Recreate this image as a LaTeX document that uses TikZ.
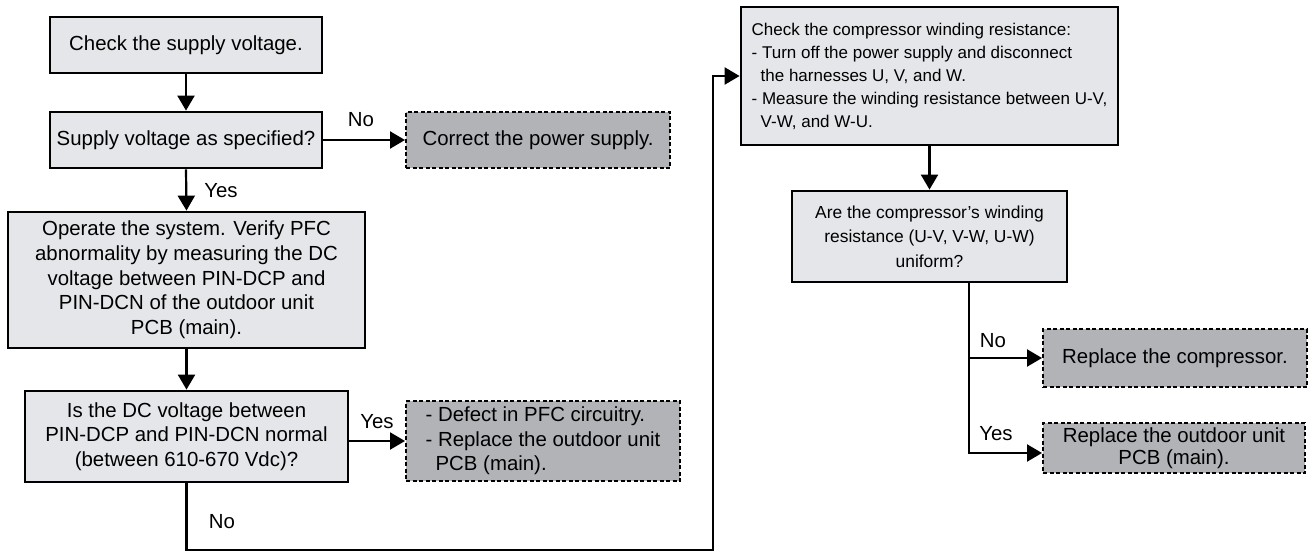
\documentclass[tikz,border=0pt]{standalone}
\usepackage{fontspec}
\setmainfont{Liberation Sans}
\usetikzlibrary{arrows.meta}
\definecolor{lightbox}{RGB}{229,230,233}
\definecolor{darkbox}{RGB}{177,179,183}
\newcommand\mainsz{\fontsize{20.4}{24.7}\selectfont}
\newcommand\tightsz{\fontsize{20.4}{22}\selectfont}
\newcommand\boxfivesz{\fontsize{17}{23}\selectfont}
\newcommand\boxsixsz{\fontsize{17.4}{24.7}\selectfont}
\begin{document}
\begin{tikzpicture}[x=1pt,y=-1pt,
  proc/.style={draw=black, line width=2.8pt, fill=lightbox, inner sep=0pt, align=center, font=\mainsz},
  endbox/.style={draw=black, line width=2pt, dash pattern=on 4pt off 2.5pt, fill=darkbox, inner sep=0pt, align=center, font=\mainsz},
  arr/.style={draw=black, line width=2.2pt, -{Triangle[length=15pt,width=17pt]}},
  lbl/.style={font=\mainsz, inner sep=0pt}]
\useasboundingbox (0,0) rectangle (1314,551);

% left column
\node[proc, minimum width=272pt, minimum height=56pt] (b1) at (186,45) {Check the supply voltage.};
\node[proc, minimum width=272pt, minimum height=56pt] (b2) at (186,140) {Supply voltage as specified?};
\node[endbox, minimum width=264pt, minimum height=56pt] (c1) at (538,140) {Correct the power supply.};
\node[proc, minimum width=357pt, minimum height=136pt] (b3) at (186.5,280) {Operate the system. Verify PFC\\abnormality by measuring the DC\\voltage between PIN-DCP and\\PIN-DCN of the outdoor unit\\PCB (main).};
\node[proc, minimum width=323pt, minimum height=91pt] (b4) at (186.5,436.5) {Is the DC voltage between\\PIN-DCP and PIN-DCN normal\\(between 610-670 Vdc)?};
\node[endbox, minimum width=274pt, minimum height=80pt, align=left] (d1) at (543,441) {- Defect in PFC circuitry.\\- Replace the outdoor unit\\\hspace*{10pt}PCB (main).};

% right column
\node[proc, minimum width=377pt, minimum height=138pt, align=left, font=\boxfivesz] (b5) at (929.5,76) {Check the compressor winding resistance:\\- Turn off the power supply and disconnect\\\hspace*{9pt}the harnesses U, V, and W.\\- Measure the winding resistance between U-V,\\\hspace*{9pt}V-W, and W-U.};
\node[proc, minimum width=275pt, minimum height=91pt, font=\boxsixsz] (b6) at (929.5,236.5) {Are the compressor’s winding\\resistance (U-V, V-W, U-W)\\uniform?};
\node[endbox, minimum width=264pt, minimum height=58pt] (b7) at (1175,358) {Replace the compressor.};
\node[endbox, minimum width=262pt, minimum height=50pt, font=\tightsz] (b8) at (1174,448) {Replace the outdoor unit\\PCB (main).};

% labels
\node[lbl] (l1) at (361,120) {No};
\node[lbl] (l2) at (221,191) {Yes};
\node[lbl] (l3) at (377,422) {Yes};
\node[lbl] (l4) at (222,522) {No};
\node[lbl] (l5) at (993,341) {No};
\node[lbl] (l6) at (996,434) {Yes};

% helper coordinates
\coordinate (k1) at (713,550);
\coordinate (br) at (969,300);

% connectors
\draw[arr] (b1.south) -- (b2.north);
\draw[arr] (b2.east) -- (c1.west);
\draw[arr] (b2.south) -- (b3.north);
\draw[arr] (b3.south) -- (b4.north);
\draw[arr] (b4.east |- d1.west) -- (d1.west);
\draw[arr] (b4.south) |- (k1) |- (b5.west);
\draw[arr] (b5.south) -- (b6.north);
\draw[arr] (b6.south -| br) |- (b7.west);
\draw[arr] (b6.south -| br) |- ([yshift=-5pt]b8.west);
\end{tikzpicture}
\end{document}
